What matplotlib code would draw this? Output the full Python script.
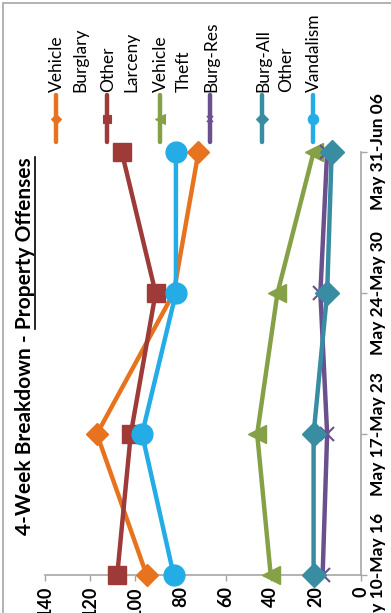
import matplotlib
matplotlib.use("Agg")
import matplotlib.pyplot as plt
from matplotlib.lines import Line2D
from matplotlib.patches import Rectangle

W, H, DPI = 391, 613, 100

# ---------------- data ----------------
categories = ["May 10-May 16", "May 17-May 23", "May 24-May 30", "May 31-Jun 06"]
vehicle_burglary = [95, 117, 83, 72]
other_larceny = [108, 102, 91, 106]
vehicle_theft = [40, 46, 37, 21]
burg_res = [17, 15, 18, 15]
burg_all_other = [21, 21, 15, 13]
vandalism = [83, 97, 82, 82]
value_ticks = [0, 20, 40, 60, 80, 100, 120, 140]
series_names = ["Vehicle\nBurglary", "Other\nLarceny", "Vehicle\nTheft",
                "Burg-Res", "Burg-All\nOther", "Vandalism"]
title_main = "4-Week Breakdown - "
title_ul = "Property Offenses"

# ---------------- styles ----------------
styles = [
    dict(color="#E8731F", marker="D", ms=11),
    dict(color="#9E3A38", marker="s", ms=12.5),
    dict(color="#85A046", marker="<", ms=13),
    dict(color="#6A508C", marker="x", ms=10, mew=1.5),
    dict(color="#388DA3", marker="D", ms=12.5),
    dict(color="#23ACE6", marker="o", ms=15),
]
all_series = [vehicle_burglary, other_larceny, vehicle_theft,
              burg_res, burg_all_other, vandalism]

plt.rcParams["font.family"] = ["Lato", "DejaVu Sans"]

fig = plt.figure(figsize=(W / DPI, H / DPI), dpi=DPI)


def fx(px):
    return px / W


def fy(py):
    return 1 - py / H


# outer border
fig.add_artist(Rectangle((fx(3), fy(640)), fx(420), 640 / H - 3 / H,
                         transform=fig.transFigure, fill=False,
                         edgecolor="#A6A6A6", lw=1.2, clip_on=False))

# axes: value axis horizontal (0 at right), category axis vertical
ax = fig.add_axes([fx(45), fy(575), fx(361) - fx(45), fy(152) - fy(575)])
pos = list(range(len(categories)))
for vals, st in zip(all_series, styles):
    ax.plot(vals, pos, color=st["color"], lw=3.2, marker=st["marker"],
            ms=st["ms"], mew=st.get("mew", 1), mec=st["color"],
            mfc=st["color"], clip_on=False, zorder=3)

ax.set_xlim(140, 0)
ax.set_ylim(0, len(categories) - 1)
for s in ["top", "left"]:
    ax.spines[s].set_visible(False)
for s in ["bottom", "right"]:
    ax.spines[s].set_color("#A6A6A6")
    ax.spines[s].set_linewidth(1.2)

ax.set_xticks(value_ticks)
ax.set_xticklabels([str(v) for v in value_ticks], rotation=90,
                   fontweight="bold", fontsize=13)
ax.tick_params(axis="x", direction="out", length=4.5, width=1,
               color="#A6A6A6", pad=3.5)

ax.yaxis.tick_right()
ax.set_yticks(pos)
ax.set_yticklabels(categories, rotation=90, va="center",
                   fontweight="bold", fontsize=12.5)
ax.tick_params(axis="y", direction="out", length=4.5, width=1,
               color="#A6A6A6", pad=2)

# title (rotated) with underlined part
TFS = 15
title = fig.text(fx(25), fy(535), title_main + title_ul, rotation=90,
                 ha="center", va="bottom", fontsize=TFS, fontweight="bold")
fig.canvas.draw()
r = fig.canvas.get_renderer()
tb = title.get_window_extent(r)
tmp = fig.text(0, 0, title_main.rstrip(), rotation=90, fontsize=TFS,
               fontweight="bold")
pb = tmp.get_window_extent(r)
tmp.remove()
space = TFS * DPI / 72 * 0.25
ul_start = tb.y0 + pb.height + space
fig.add_artist(Line2D([tb.x1 / W, tb.x1 / W], [ul_start / H, tb.y1 / H],
                      transform=fig.transFigure, color="black", lw=1.2))

# legend (rotated, across the top)
leg_x = [56, 107, 160, 210, 262, 313]
for name, st, lx in zip(series_names, styles, leg_x):
    fig.add_artist(Line2D([fx(lx), fx(lx)], [fy(142), fy(95)],
                          transform=fig.transFigure, color=st["color"],
                          lw=3.2, solid_capstyle="round"))
    fig.add_artist(Line2D([fx(lx)], [fy(118.5)], transform=fig.transFigure,
                          color=st["color"], marker=st["marker"],
                          ms=st["ms"] * 0.5, mew=st.get("mew", 1) * 0.8))
    for i, line in enumerate(name.split("\n")):
        fig.text(fx(lx + 6 + 23 * i), fy(92), line, rotation=90,
                 rotation_mode="anchor", ha="left", va="baseline",
                 fontsize=12.5)

fig.savefig("out.png", dpi=DPI)
